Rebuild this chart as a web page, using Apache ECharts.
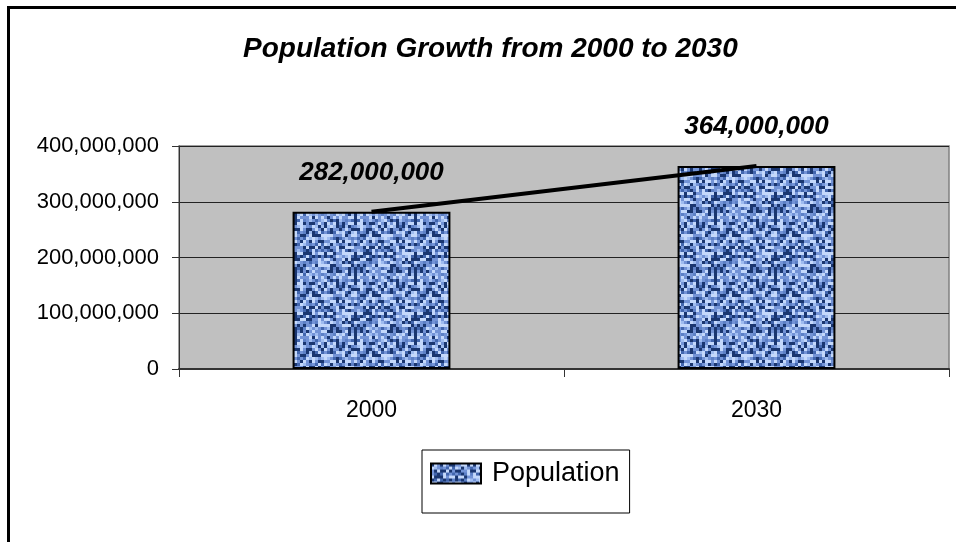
<!DOCTYPE html>
<html>
<head>
<meta charset="utf-8">
<script src="https://cdn.jsdelivr.net/npm/echarts@6/dist/echarts.min.js"></script>
<style>
  html, body { margin: 0; padding: 0; background: #fff; }
  #chart { width: 956px; height: 542px; }
</style>
</head>
<body>
<div id="chart"></div>
<script>
var years = ["2000", "2030"];
var population = [282000000, 364000000];
var yTicks = [0, 100000000, 200000000, 300000000, 400000000];

var FONT = "'Liberation Sans', Arial, sans-serif";

// blue speckled fill, like the old office texture
function makeTexture() {
    var c = document.createElement("canvas");
    c.width = 60;
    c.height = 60;
    var ctx = c.getContext("2d");
    var shades = ["#1a3670", "#4266ae", "#7393d6", "#9fbcf0", "#c4d8fb", "#5d80c6"];
    for (var i = 0; i < 20; i++) {
        for (var j = 0; j < 20; j++) {
            var h = ((i * 7349 + j * 2791 + i * j * 131) ^ (i * 37 + j * 113)) % 6;
            ctx.fillStyle = shades[h];
            ctx.fillRect(i * 3, j * 3, 3, 3);
        }
    }
    return c;
}

function fmt(v) {
    return String(v).replace(/\B(?=(\d{3})+(?!\d))/g, ",");
}

var chart = echarts.init(document.getElementById("chart"), null, {renderer: "canvas"});
var tex = {image: makeTexture(), repeat: "repeat"};

var option = {
    animation: false,
    backgroundColor: "#fff",
    textStyle: {fontFamily: FONT, color: "#000"},
    title: {
        text: "Population Growth from 2000 to 2030",
        left: 243,
        top: 35,
        padding: 0,
        textStyle: {fontSize: 28, fontWeight: "bold", fontStyle: "italic", color: "#000", fontFamily: FONT}
    },
    graphic: [{
        type: "rect",
        shape: {x: 8.5, y: 7.5, width: 1000, height: 600},
        style: {fill: null, stroke: "#000", lineWidth: 3},
        silent: true
    }],
    grid: {
        left: 179, right: 7, top: 146, bottom: 173,
        show: true,
        backgroundColor: "#c0c0c0",
        borderColor: "#808080",
        borderWidth: 1.5
    },
    legend: {
        data: [{name: "Population", icon: "rect"}],
        left: 422,
        top: 450,
        padding: [10, 10, 26, 8],
        itemWidth: 50,
        itemHeight: 20,
        itemGap: 6,
        borderColor: "#000",
        borderWidth: 1,
        textStyle: {fontSize: 27, color: "#000", fontFamily: FONT, padding: [0, 0, 0, 6]}
    },
    xAxis: {
        type: "category",
        data: years,
        boundaryGap: true,
        axisLine: {lineStyle: {color: "#333", width: 2}},
        axisTick: {show: true, length: 8, lineStyle: {color: "#333"}},
        axisLabel: {fontSize: 23, color: "#000", margin: 30, fontFamily: FONT}
    },
    yAxis: {
        type: "value",
        min: yTicks[0],
        max: yTicks[yTicks.length - 1],
        interval: yTicks[1] - yTicks[0],
        axisLine: {show: true, lineStyle: {color: "#333", width: 1}},
        axisTick: {show: true, length: 7, lineStyle: {color: "#333"}},
        splitLine: {show: true, lineStyle: {color: "#222", width: 1}},
        axisLabel: {fontSize: 22, color: "#000", margin: 20, formatter: fmt, fontFamily: FONT}
    },
    series: [
        {
            name: "Population",
            type: "bar",
            data: population,
            barWidth: "41%",
            itemStyle: {color: tex, borderColor: "#000", borderWidth: 2},
            label: {
                show: true,
                position: "top",
                distance: 26,
                formatter: function (p) { return fmt(p.value); },
                fontSize: 26,
                fontWeight: "bold",
                fontStyle: "italic",
                color: "#000",
                fontFamily: FONT
            },
            z: 2
        },
        {
            name: "trend",
            type: "line",
            data: population,
            symbol: "none",
            lineStyle: {color: "#000", width: 4},
            z: 3
        }
    ]
};
chart.setOption(option);
</script>
</body>
</html>
